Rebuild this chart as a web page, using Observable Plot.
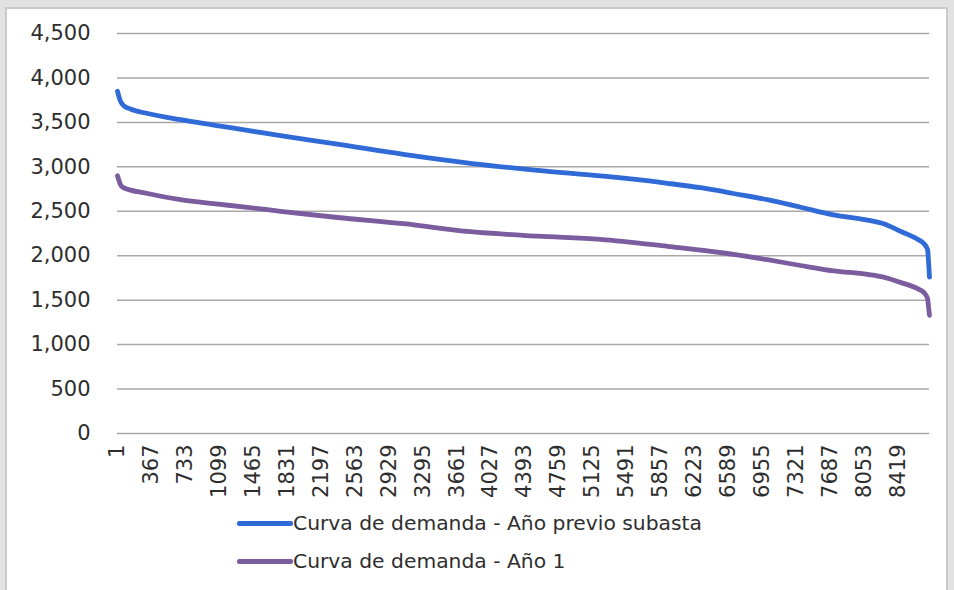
<!DOCTYPE html>
<html>
<head>
<meta charset="utf-8">
<script src="https://cdn.jsdelivr.net/npm/d3@7"></script>
<script src="https://cdn.jsdelivr.net/npm/@observablehq/plot@0.6"></script>
<style>
  html, body { margin: 0; padding: 0; }
  body { width: 954px; height: 590px; background: #e2e2e2; position: relative; overflow: hidden; font-family: "DejaVu Sans", sans-serif; }
  #frame { position: absolute; left: 5px; top: 7px; width: 943px; height: 600px; background: #fff; border: 2px solid #c9c9c9; box-sizing: border-box; }
  #chart { position: absolute; left: 0; top: 0; }
  .leg { position: absolute; left: 237px; display: flex; align-items: center; font-size: 20.3px; color: #2e2e2e; white-space: nowrap; }
  .sw { width: 56px; height: 5px; border-radius: 2px; }
</style>
</head>
<body>
<div id="frame"></div>
<div id="chart"></div>
<div class="leg" id="leg1" style="top:511px"></div>
<div class="leg" id="leg2" style="top:549px"></div>
<script>
// Hours (sorted duration index)
const hoursPrev = [1, 33, 66, 141, 325, 681, 1037, 1403, 1759, 2374, 3086, 3809, 4532, 5244, 5934, 6290, 6646, 7013, 7369, 7725, 8092, 8264, 8447, 8631, 8696, 8739, 8750, 8760];
const demandPrev = [3850, 3740, 3690, 3650, 3600, 3530, 3470, 3410, 3350, 3255, 3140, 3040, 2960, 2895, 2815, 2765, 2700, 2630, 2545, 2460, 2400, 2360, 2275, 2185, 2140, 2070, 1930, 1760];

const hoursY1 = [1, 33, 66, 325, 681, 1037, 1403, 1759, 2374, 3086, 3809, 4532, 5211, 5934, 6646, 7013, 7369, 7725, 8092, 8264, 8447, 8631, 8696, 8739, 8750, 8760];
const demandY1 = [2900, 2800, 2765, 2700, 2630, 2585, 2545, 2500, 2430, 2360, 2270, 2220, 2185, 2105, 2015, 1955, 1890, 1830, 1790, 1760, 1700, 1630, 1590, 1520, 1420, 1330];

const seriesNames = ["Curva de demanda - Año previo subasta", "Curva de demanda - Año 1"];
const seriesColors = ["#2f6ad6", "#7a5c9f"];

const xTicks = [1, 367, 733, 1099, 1465, 1831, 2197, 2563, 2929, 3295, 3661, 4027, 4393, 4759, 5125, 5491, 5857, 6223, 6589, 6955, 7321, 7687, 8053, 8419];
const yTicks = [0, 500, 1000, 1500, 2000, 2500, 3000, 3500, 4000, 4500];

const data = [
  ...hoursPrev.map((h, i) => ({hour: h, value: demandPrev[i], series: seriesNames[0]})),
  ...hoursY1.map((h, i) => ({hour: h, value: demandY1[i], series: seriesNames[1]}))
];

const chart = Plot.plot({
  width: 954,
  height: 510,
  marginTop: 33,
  marginBottom: 77,
  marginLeft: 117,
  marginRight: 25,
  style: {fontFamily: "DejaVu Sans", fontSize: "21px", color: "#2e2e2e", background: "transparent"},
  x: {domain: [1, 8760]},
  y: {domain: [0, 4500]},
  color: {domain: seriesNames, range: seriesColors},
  marks: [
    Plot.gridY(yTicks, {stroke: "#a8a8a8", strokeOpacity: 1, strokeWidth: 1.5}),
    Plot.axisY(yTicks, {tickSize: 0, tickPadding: 27, tickFormat: d3.format(","), label: null, fontSize: 21}),
    Plot.axisX(xTicks, {tickSize: 0, tickPadding: 11, tickRotate: -90, tickFormat: d => String(d), label: null, fontSize: 21}),
    Plot.line(data, {x: "hour", y: "value", z: "series", stroke: "series", strokeWidth: 4.8, curve: "monotone-x"})
  ]
});
document.getElementById("chart").appendChild(chart);

[["leg1", 0], ["leg2", 1]].forEach(([id, i]) => {
  const el = document.getElementById(id);
  const sw = document.createElement("div");
  sw.className = "sw";
  sw.style.background = seriesColors[i];
  const t = document.createElement("span");
  t.textContent = seriesNames[i];
  el.appendChild(sw);
  el.appendChild(t);
});
</script>
</body>
</html>
